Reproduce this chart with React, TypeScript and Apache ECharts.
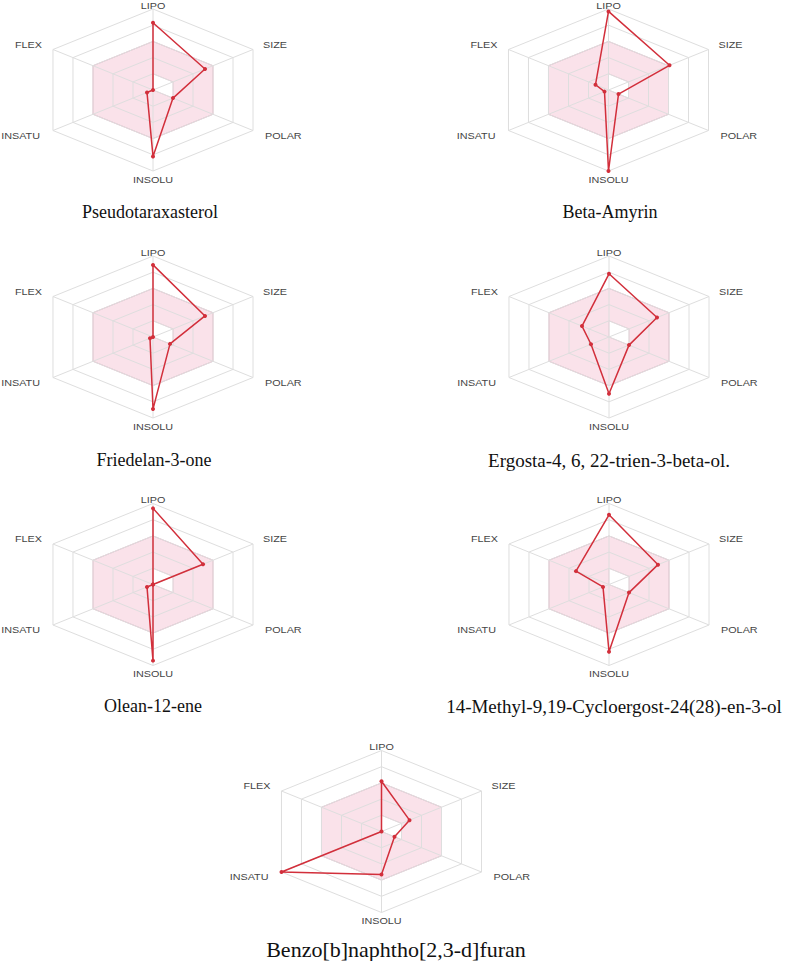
import React, { useEffect, useRef } from 'react';
import * as echarts from 'echarts';

// Bioavailability radar axes (clockwise from top)
const indicators = ['LIPO', 'SIZE', 'POLAR', 'INSOLU', 'INSATU', 'FLEX'];

const compoundNames = [
  'Pseudotaraxasterol',
  'Beta-Amyrin',
  'Friedelan-3-one',
  'Ergosta-4, 6, 22-trien-3-beta-ol.',
  'Olean-12-ene',
  '14-Methyl-9,19-Cycloergost-24(28)-en-3-ol',
  'Benzo[b]naphtho[2,3-d]furan',
];

// values as a fraction of the outer radius, order: LIPO, SIZE, POLAR, INSOLU, INSATU, FLEX
const pseudotaraxasterol = [0.83, 0.52, 0.2, 0.82, 0.06, 0];
const betaAmyrin = [0.97, 0.61, 0.1, 1.0, 0.04, 0.13];
const friedelan3one = [0.89, 0.52, 0.17, 0.89, 0.03, 0];
const ergostaTrienol = [0.78, 0.48, 0.2, 0.7, 0.18, 0.27];
const olean12ene = [0.94, 0.5, 0, 0.94, 0.06, 0];
const methylCycloergostenol = [0.86, 0.49, 0.2, 0.83, 0.06, 0.33];
const benzoNaphthofuran = [0.62, 0.28, 0.13, 0.53, 1.0, 0];

const compoundValues = [
  pseudotaraxasterol,
  betaAmyrin,
  friedelan3one,
  ergostaTrienol,
  olean12ene,
  methylCycloergostenol,
  benzoNaphthofuran,
];

// grid rings and the pink optimal range
const gridLevels = [0.2, 0.4, 0.6, 0.8, 1.0];
const optimalUpper = [0.6, 0.6, 0.6, 0.6, 0.6, 0.6];
const optimalLower = [0.2, 0.2, 0.2, 0, 0, 0];

// ---- layout (pixels) ----
const W = 787;
const H = 961;
const RX = 115.5; // horizontal radius (image is stretched horizontally)
const RY = 81; // vertical radius
const panelCenters = [
  [153, 90],
  [608.5, 90],
  [153, 337],
  [609, 337],
  [153, 584.5],
  [609, 584.5],
  [381.5, 831.5],
];
const titleCenters = [
  [150, 212],
  [610, 212],
  [154, 460],
  [609, 460],
  [153, 706],
  [614, 706],
  [396, 949],
];
const titleSizes = [18, 18, 18, 19, 18, 19, 22];
const labelPlacement = [
  { dx: 0, dy: 1, align: 'center', va: 'bottom' },
  { dx: 10, dy: -5, align: 'left', va: 'middle' },
  { dx: 12, dy: 5, align: 'left', va: 'middle' },
  { dx: 0, dy: 4, align: 'center', va: 'top' },
  { dx: -13, dy: 5, align: 'right', va: 'middle' },
  { dx: -11, dy: -5, align: 'right', va: 'middle' },
];

const RED = '#d22f3b';
const GRID = '#dedede';
const SANS = '"Liberation Sans", Arial, sans-serif';
const SERIF = '"Liberation Serif", "Times New Roman", serif';

const ANG = indicators.map((_, k) => (k * Math.PI) / 3);
const SIN = ANG.map((a) => Math.sin(a));
const COS = ANG.map((a) => Math.cos(a));

function hexPoints(api: any, vals: number[]) {
  return vals.map((v, k) => api.coord([v * SIN[k], v * COS[k]]));
}

function valuesOf(api: any, n: number) {
  const out: number[] = [];
  for (let k = 0; k < n; k++) out.push(api.value(k));
  return out;
}

export default function App() {
  const ref = useRef<HTMLDivElement>(null);

  useEffect(() => {
    if (!ref.current) return;
    const chart = echarts.init(ref.current, undefined, { renderer: 'svg' });

    const grids: any[] = [];
    const xAxes: any[] = [];
    const yAxes: any[] = [];
    const series: any[] = [];

    panelCenters.forEach(([cx, cy], i) => {
      grids.push({ left: cx - RX, top: cy - RY, width: 2 * RX, height: 2 * RY, containLabel: false });
      xAxes.push({ type: 'value', gridIndex: i, min: -1, max: 1, show: false });
      yAxes.push({ type: 'value', gridIndex: i, min: -1, max: 1, show: false });

      // pink optimal band
      series.push({
        type: 'custom',
        xAxisIndex: i,
        yAxisIndex: i,
        z: 1,
        silent: true,
        data: [[...optimalUpper, ...optimalLower]],
        renderItem: (_p: any, api: any) => {
          const v = valuesOf(api, 12);
          const outer = hexPoints(api, v.slice(0, 6));
          const inner = hexPoints(api, v.slice(6, 12));
          return {
            type: 'group',
            children: [
              {
                type: 'polygon',
                shape: { points: outer },
                style: { fill: 'rgba(236, 140, 172, 0.25)', stroke: 'rgba(215, 120, 155, 0.5)', lineWidth: 1 },
              },
              {
                type: 'polygon',
                shape: { points: inner },
                style: { fill: '#ffffff', stroke: 'rgba(215, 120, 155, 0.3)', lineWidth: 1 },
              },
            ],
          };
        },
      });

      // grid rings
      series.push({
        type: 'custom',
        xAxisIndex: i,
        yAxisIndex: i,
        z: 2,
        silent: true,
        data: gridLevels.map((l) => [l]),
        renderItem: (_p: any, api: any) => {
          const l = api.value(0);
          const pts = hexPoints(api, indicators.map(() => l));
          return {
            type: 'polygon',
            shape: { points: pts },
            style: { fill: 'none', stroke: GRID, lineWidth: 1 },
          };
        },
      });

      // spokes + axis names
      series.push({
        type: 'custom',
        xAxisIndex: i,
        yAxisIndex: i,
        z: 2,
        silent: true,
        data: indicators.map((_, k) => [k]),
        renderItem: (p: any, api: any) => {
          const k = api.value(0);
          const c = api.coord([0, 0]);
          const v = api.coord([SIN[k], COS[k]]);
          const lp = labelPlacement[k];
          return {
            type: 'group',
            children: [
              {
                type: 'line',
                shape: { x1: c[0], y1: c[1], x2: v[0], y2: v[1] },
                style: { stroke: GRID, lineWidth: 1 },
              },
              {
                type: 'text',
                x: v[0] + lp.dx,
                y: v[1] + lp.dy,
                scaleX: 1.2,
                style: {
                  text: indicators[p.dataIndex],
                  fill: '#444444',
                  fontSize: 9,
                  fontFamily: SANS,
                  align: lp.align,
                  verticalAlign: lp.va,
                },
              },
            ],
          };
        },
      });

      // compound polygon
      series.push({
        type: 'custom',
        name: compoundNames[i],
        xAxisIndex: i,
        yAxisIndex: i,
        z: 5,
        silent: true,
        data: [compoundValues[i]],
        renderItem: (_p: any, api: any) => {
          const pts = hexPoints(api, valuesOf(api, 6));
          return {
            type: 'group',
            children: [
              {
                type: 'polygon',
                shape: { points: pts },
                style: { fill: 'none', stroke: RED, lineWidth: 1.5, lineJoin: 'round' },
              },
              ...pts.map((pt: number[]) => ({
                type: 'circle',
                shape: { cx: pt[0], cy: pt[1], r: 2 },
                style: { fill: RED },
              })),
            ],
          };
        },
      });
    });

    const graphic = compoundNames.map((name, i) => ({
      type: 'text',
      x: titleCenters[i][0],
      y: titleCenters[i][1],
      style: {
        text: name,
        fill: '#111111',
        fontSize: titleSizes[i],
        fontFamily: SERIF,
        align: 'center',
        verticalAlign: 'middle',
      },
    }));

    chart.setOption({
      animation: false,
      backgroundColor: '#ffffff',
      grid: grids,
      xAxis: xAxes,
      yAxis: yAxes,
      series,
      graphic,
    });

    return () => chart.dispose();
  }, []);

  return (
    <div
      ref={ref}
      style={{ position: 'absolute', left: 0, top: 0, width: W, height: H, background: '#fff' }}
    />
  );
}
